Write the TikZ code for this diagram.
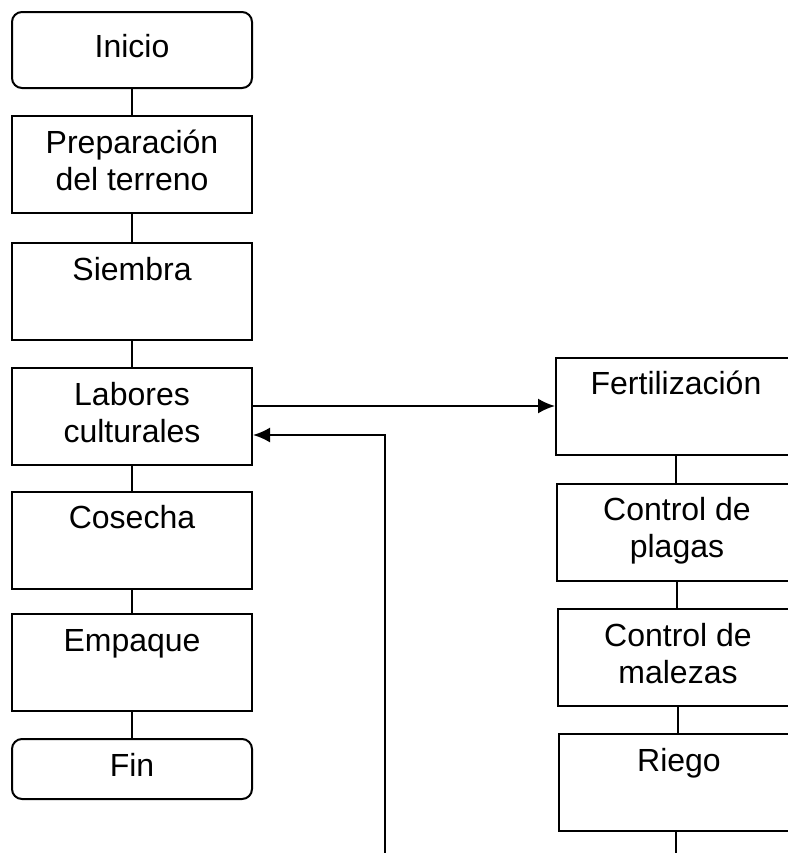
\documentclass[tikz,border=0pt]{standalone}
\usepackage{fontspec}
\setmainfont{Liberation Sans}
\usetikzlibrary{arrows.meta}
\begin{document}
\begin{tikzpicture}[x=0.5pt,y=-0.5pt,line width=1pt,
	etapa/.style={draw,rectangle,minimum width=120pt,minimum height=48.5pt,inner sep=0pt,align=center,font=\fontsize{16}{18.5}\selectfont},
	extremo/.style={etapa,rounded corners=5pt}]
		\useasboundingbox (0,0) rectangle (788,853);
		\clip (0,0) rectangle (788,853);
		\node[extremo,minimum height=38pt] (inicio) at (132,50) {\strut Inicio};
		\node[etapa] (prep) at (132,164.5) {\strut Preparación\\del terreno\strut};
		\node[etapa] (siembra) at (132,291.5) {\strut Siembra\\\strut};
		\node[etapa] (labores) at (132,416.5) {\strut Labores\\culturales\strut};
		\node[etapa] (cosecha) at (132,540) {\strut Cosecha\\\strut};
		\node[etapa] (empaque) at (132,662.5) {\strut Empaque\\\strut};
		\node[extremo,minimum height=30pt] (fin) at (132,769) {\strut Fin};
		\node[etapa] (fert) at (676,406) {\strut Fertilización\\\strut};
		\node[etapa] (plagas) at (677,532) {\strut Control de\\plagas\strut};
		\node[etapa] (malezas) at (678,657.5) {\strut Control de\\malezas\strut};
		\node[etapa] (riego) at (679,782.5) {\strut Riego\\\strut};
		\coordinate (salida) at (676,853);
		\coordinate (ret) at (385,853);
		\coordinate (vuelta) at (385,435);
		\draw (inicio) -- (prep);
		\draw (prep) -- (siembra);
		\draw (siembra) -- (labores);
		\draw (labores) -- (cosecha);
		\draw (cosecha) -- (empaque);
		\draw (empaque) -- (fin);
		\draw (fert.south) -- (fert.south |- plagas.north);
		\draw (plagas.south) -- (plagas.south |- malezas.north);
		\draw (malezas.south) -- (malezas.south |- riego.north);
		\draw (riego.south -| salida) -- (salida);
		\draw[-{Latex[length=8.5pt,width=7.5pt]}] (labores.east |- fert) -- (fert.west);
		\draw[-{Latex[length=8.5pt,width=7.5pt]}] (ret) -- (vuelta) -- (labores.east |- vuelta);
		\end{tikzpicture}
\end{document}
